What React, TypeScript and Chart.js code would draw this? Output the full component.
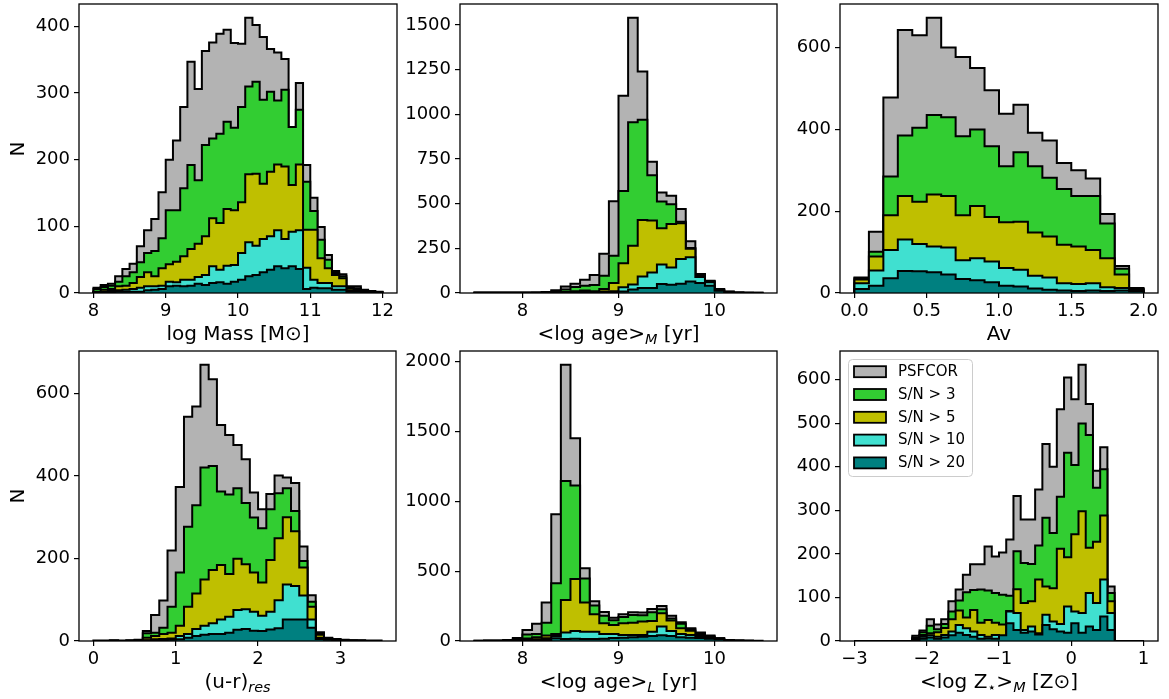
import React, { useEffect, useRef } from 'react';
import { Chart, registerables } from 'chart.js';

Chart.register(...registerables);

const FONT = "'DejaVu Sans', sans-serif";

// ---------- series ----------
const SERIES_NAMES = ['PSFCOR', 'S/N > 3', 'S/N > 5', 'S/N > 10', 'S/N > 20'];
const SERIES_COLORS = ['#b3b3b3', '#32cd32', '#bfbf00', '#40e0d0', '#008080'];

// ---------- panel 1 : log Mass (bins 8.0 .. 12.0, width 0.1) ----------
const MASS_BIN_START = 8.0;
const MASS_BIN_WIDTH = 0.1;
const MASS_PSFCOR = [8, 12, 14, 25, 36, 44, 70, 94, 111, 151, 200, 229, 279, 347, 306, 363, 376, 389, 395, 375, 374, 413, 402, 384, 366, 361, 351, 249, 315, 192, 143, 99, 57, 33, 28, 10, 10, 5, 3, 2];
const MASS_SN3 = [6, 9, 11, 17, 25, 31, 46, 60, 63, 82, 124, 124, 157, 192, 169, 222, 232, 239, 257, 248, 279, 310, 317, 290, 302, 289, 305, 249, 275, 167, 123, 80, 50, 30, 25, 9, 7, 4, 2, 1];
const MASS_SN5 = [2, 5, 6, 10, 11, 15, 24, 31, 25, 37, 43, 47, 55, 66, 74, 85, 112, 105, 126, 124, 136, 178, 179, 164, 182, 193, 190, 162, 193, 95, 95, 52, 37, 27, 22, 7, 6, 3, 1, 1];
const MASS_SN10 = [1, 2, 3, 4, 5, 6, 8, 10, 10, 11, 17, 16, 20, 20, 24, 27, 40, 35, 41, 42, 60, 76, 71, 81, 85, 94, 81, 92, 94, 38, 20, 15, 15, 10, 10, 4, 3, 2, 1, 0];
const MASS_SN20 = [1, 1, 1, 2, 2, 2, 2, 4, 5, 6, 10, 11, 10, 11, 14, 12, 15, 16, 14, 17, 20, 25, 27, 31, 35, 40, 37, 40, 36, 6, 8, 7, 7, 5, 5, 2, 2, 1, 0, 0];
const MASS_X_TICKS = [8, 9, 10, 11, 12];
const MASS_X_LABELS = ['8', '9', '10', '11', '12'];
const MASS_Y_TICKS = [0, 100, 200, 300, 400];

// ---------- panel 2 : <log age>_M (bins 7.5 .. 10.5, width 0.1) ----------
const AGEM_BIN_START = 7.5;
const AGEM_BIN_WIDTH = 0.1;
const AGEM_PSFCOR = [3, 3, 3, 3, 3, 3, 3, 5, 15, 36, 52, 74, 101, 219, 514, 1104, 1540, 1240, 735, 562, 544, 470, 290, 107, 68, 22, 8, 3, 2, 1];
const AGEM_SN3 = [2, 2, 2, 2, 2, 2, 2, 3, 9, 19, 33, 40, 45, 97, 208, 571, 955, 969, 659, 512, 496, 399, 252, 103, 66, 20, 7, 2, 1, 1];
const AGEM_SN5 = [1, 1, 1, 1, 1, 1, 1, 1, 3, 6, 10, 14, 10, 22, 56, 167, 265, 408, 405, 362, 386, 390, 248, 97, 64, 18, 6, 2, 1, 0];
const AGEM_SN10 = [0, 0, 0, 0, 0, 0, 1, 1, 2, 3, 4, 5, 5, 8, 10, 32, 48, 93, 115, 160, 142, 190, 200, 89, 60, 16, 5, 1, 0, 0];
const AGEM_SN20 = [0, 0, 0, 0, 0, 0, 0, 1, 1, 2, 2, 3, 3, 4, 5, 9, 19, 28, 28, 50, 46, 52, 65, 56, 41, 12, 4, 1, 0, 0];
const AGEM_X_TICKS = [8, 9, 10];
const AGEM_X_LABELS = ['8', '9', '10'];
const AGEM_Y_TICKS = [0, 250, 500, 750, 1000, 1250, 1500];

// ---------- panel 3 : Av (bins 0.0 .. 2.0, width 0.1) ----------
const AV_BIN_START = 0.0;
const AV_BIN_WIDTH = 0.1;
const AV_PSFCOR = [38, 150, 478, 643, 630, 673, 600, 577, 550, 496, 438, 460, 392, 373, 318, 300, 280, 193, 66, 12];
const AV_SN3 = [36, 101, 285, 385, 404, 435, 430, 383, 400, 359, 310, 344, 310, 282, 254, 237, 237, 170, 59, 10];
const AV_SN5 = [33, 89, 190, 237, 223, 241, 237, 190, 213, 186, 173, 174, 148, 138, 118, 114, 105, 85, 45, 9];
const AV_SN10 = [24, 55, 105, 131, 120, 114, 111, 80, 85, 77, 61, 57, 42, 38, 24, 22, 24, 14, 12, 7];
const AV_SN20 = [10, 18, 36, 54, 53, 51, 45, 34, 31, 26, 18, 16, 11, 8, 6, 5, 6, 5, 6, 4];
const AV_X_TICKS = [0, 0.5, 1, 1.5, 2];
const AV_X_LABELS = ['0.0', '0.5', '1.0', '1.5', '2.0'];
const AV_Y_TICKS = [0, 200, 400, 600];

// ---------- panel 4 : (u-r)_res (bins 0.0 .. 3.5, width 0.1) ----------
const UR_BIN_START = 0.0;
const UR_BIN_WIDTH = 0.1;
const UR_PSFCOR = [1, 1, 2, 1, 2, 3, 24, 63, 98, 219, 373, 543, 568, 669, 634, 523, 499, 475, 440, 360, 319, 356, 401, 396, 383, 229, 111, 21, 8, 5, 3, 2, 2, 1, 1];
const UR_SN3 = [0, 0, 1, 0, 1, 2, 19, 20, 32, 83, 166, 277, 329, 420, 424, 362, 355, 370, 334, 299, 273, 319, 358, 370, 315, 194, 95, 18, 7, 4, 2, 1, 1, 0, 0];
const UR_SN5 = [0, 0, 0, 0, 0, 1, 8, 12, 17, 20, 37, 83, 115, 149, 172, 184, 162, 199, 186, 166, 142, 196, 249, 300, 266, 178, 83, 15, 6, 3, 1, 1, 0, 0, 0];
const UR_SN10 = [0, 0, 0, 0, 0, 0, 2, 4, 5, 6, 12, 17, 29, 37, 43, 52, 59, 75, 77, 71, 61, 71, 99, 137, 133, 110, 52, 8, 4, 2, 1, 0, 0, 0, 0];
const UR_SN20 = [0, 0, 0, 0, 0, 0, 1, 2, 2, 3, 4, 8, 12, 15, 17, 17, 20, 27, 29, 25, 24, 28, 31, 52, 52, 52, 32, 5, 3, 1, 1, 0, 0, 0, 0];
const UR_X_TICKS = [0, 1, 2, 3];
const UR_X_LABELS = ['0', '1', '2', '3'];
const UR_Y_TICKS = [0, 200, 400, 600];

// ---------- panel 5 : <log age>_L (bins 7.5 .. 10.5, width 0.1) ----------
const AGEL_BIN_START = 7.5;
const AGEL_BIN_WIDTH = 0.1;
const AGEL_PSFCOR = [2, 3, 3, 8, 22, 79, 123, 275, 908, 1978, 1452, 521, 285, 208, 166, 192, 206, 204, 230, 250, 180, 135, 91, 60, 40, 19, 7, 3, 2, 1];
const AGEL_SN3 = [1, 1, 2, 5, 15, 46, 50, 130, 413, 1146, 1113, 447, 255, 180, 148, 172, 187, 185, 206, 228, 162, 123, 85, 54, 33, 19, 6, 2, 1, 0];
const AGEL_SN5 = [0, 1, 1, 2, 6, 18, 26, 40, 50, 294, 444, 275, 191, 127, 115, 127, 131, 139, 143, 198, 146, 91, 74, 50, 30, 16, 5, 2, 1, 0];
const AGEL_SN10 = [0, 0, 0, 1, 2, 8, 12, 20, 36, 60, 72, 67, 67, 50, 50, 43, 43, 43, 67, 103, 72, 50, 43, 36, 24, 15, 4, 1, 0, 0];
const AGEL_SN20 = [0, 0, 0, 0, 1, 3, 5, 8, 19, 14, 17, 14, 14, 17, 21, 24, 26, 31, 36, 41, 36, 26, 24, 21, 17, 12, 3, 1, 0, 0];
const AGEL_X_TICKS = [8, 9, 10];
const AGEL_X_LABELS = ['8', '9', '10'];
const AGEL_Y_TICKS = [0, 500, 1000, 1500, 2000];

// ---------- panel 6 : <log Z*>_M (bins -3.0 .. 1.0, width 0.1) ----------
const Z_BIN_START = -3.0;
const Z_BIN_WIDTH = 0.1;
const Z_PSFCOR = [0, 0, 0, 0, 0, 0, 0, 0, 12, 24, 50, 38, 50, 91, 118, 152, 176, 176, 217, 194, 203, 233, 333, 279, 279, 348, 452, 400, 532, 605, 555, 634, 544, 391, 445, 125, 0, 0, 0, 0];
const Z_SN3 = [0, 0, 0, 0, 0, 0, 0, 0, 8, 20, 35, 27, 39, 68, 93, 112, 117, 118, 116, 110, 106, 104, 206, 179, 177, 219, 283, 248, 331, 432, 404, 499, 473, 352, 394, 110, 0, 0, 0, 0];
const Z_SN5 = [0, 0, 0, 0, 0, 0, 0, 0, 6, 14, 18, 20, 30, 50, 70, 54, 71, 42, 48, 42, 38, 69, 119, 87, 91, 141, 125, 121, 212, 192, 245, 298, 214, 228, 288, 91, 0, 0, 0, 0];
const Z_SN10 = [0, 0, 0, 0, 0, 0, 0, 0, 4, 10, 13, 10, 14, 22, 37, 29, 22, 14, 10, 14, 10, 68, 64, 25, 33, 18, 60, 45, 39, 79, 68, 64, 110, 87, 141, 64, 0, 0, 0, 0];
const Z_SN20 = [0, 0, 0, 0, 0, 0, 0, 0, 2, 5, 8, 5, 8, 13, 19, 14, 10, 5, 6, 5, 13, 41, 25, 19, 22, 15, 37, 27, 22, 19, 41, 19, 33, 25, 56, 25, 0, 0, 0, 0];
const Z_X_TICKS = [-3, -2, -1, 0, 1];
const Z_X_LABELS = ['\u22123', '\u22122', '\u22121', '0', '1'];
const Z_Y_TICKS = [0, 100, 200, 300, 400, 500, 600];

// ---------- layout (pixels) ----------
const PAD_L = 78;
const PAD_R = 30;
const PAD_T = 20;
const AXIS_H = 40;
const TITLE_SIZE = 20;

const subStyle: React.CSSProperties = { fontSize: '0.72em', verticalAlign: '-0.28em', lineHeight: 0 };

const PANELS = [
  {
    box: { left: 79, top: 4, width: 318, height: 289 },
    binStart: MASS_BIN_START, binWidth: MASS_BIN_WIDTH,
    series: [MASS_PSFCOR, MASS_SN3, MASS_SN5, MASS_SN10, MASS_SN20],
    xMin: 7.8, xMax: 12.2, xTicks: MASS_X_TICKS, xLabels: MASS_X_LABELS, yTicks: MASS_Y_TICKS,
    yTitle: true, legend: false,
    xTitle: <span>log Mass [M⊙]</span>,
  },
  {
    box: { left: 460, top: 4, width: 317, height: 289 },
    binStart: AGEM_BIN_START, binWidth: AGEM_BIN_WIDTH,
    series: [AGEM_PSFCOR, AGEM_SN3, AGEM_SN5, AGEM_SN10, AGEM_SN20],
    xMin: 7.35, xMax: 10.65, xTicks: AGEM_X_TICKS, xLabels: AGEM_X_LABELS, yTicks: AGEM_Y_TICKS,
    yTitle: false, legend: false,
    xTitle: <span>&lt;log age&gt;<span style={subStyle}><i>M</i></span> [yr]</span>,
  },
  {
    box: { left: 840, top: 4, width: 318, height: 289 },
    binStart: AV_BIN_START, binWidth: AV_BIN_WIDTH,
    series: [AV_PSFCOR, AV_SN3, AV_SN5, AV_SN10, AV_SN20],
    xMin: -0.1, xMax: 2.1, xTicks: AV_X_TICKS, xLabels: AV_X_LABELS, yTicks: AV_Y_TICKS,
    yTitle: false, legend: false,
    xTitle: <span>Av</span>,
  },
  {
    box: { left: 79, top: 351, width: 317, height: 290 },
    binStart: UR_BIN_START, binWidth: UR_BIN_WIDTH,
    series: [UR_PSFCOR, UR_SN3, UR_SN5, UR_SN10, UR_SN20],
    xMin: -0.175, xMax: 3.675, xTicks: UR_X_TICKS, xLabels: UR_X_LABELS, yTicks: UR_Y_TICKS,
    yTitle: true, legend: false,
    xTitle: <span>(u-r)<span style={subStyle}><i>res</i></span></span>,
  },
  {
    box: { left: 460, top: 351, width: 317, height: 290 },
    binStart: AGEL_BIN_START, binWidth: AGEL_BIN_WIDTH,
    series: [AGEL_PSFCOR, AGEL_SN3, AGEL_SN5, AGEL_SN10, AGEL_SN20],
    xMin: 7.35, xMax: 10.65, xTicks: AGEL_X_TICKS, xLabels: AGEL_X_LABELS, yTicks: AGEL_Y_TICKS,
    yTitle: false, legend: false,
    xTitle: <span>&lt;log age&gt;<span style={subStyle}><i>L</i></span> [yr]</span>,
  },
  {
    box: { left: 840, top: 351, width: 318, height: 290 },
    binStart: Z_BIN_START, binWidth: Z_BIN_WIDTH,
    series: [Z_PSFCOR, Z_SN3, Z_SN5, Z_SN10, Z_SN20],
    xMin: -3.2, xMax: 1.2, xTicks: Z_X_TICKS, xLabels: Z_X_LABELS, yTicks: Z_Y_TICKS,
    yTitle: false, legend: true,
    xTitle: <span>&lt;log Z<span style={subStyle}>⋆</span>&gt;<span style={subStyle}><i>M</i></span> [Z⊙]</span>,
  },
];

const framePlugin = {
  id: 'frame',
  afterDatasetsDraw(chart: any) {
    const { ctx, chartArea: a } = chart;
    ctx.save();
    ctx.strokeStyle = '#000';
    ctx.lineWidth = 1.3;
    ctx.strokeRect(a.left, a.top, a.right - a.left, a.bottom - a.top);
    ctx.restore();
  },
};

const legendPlugin = {
  id: 'histLegend',
  afterDraw(chart: any) {
    const { ctx, chartArea: a } = chart;
    ctx.save();
    const x0 = a.left + 8.5;
    const y0 = a.top + 8.5;
    const w = 124;
    const h = 117;
    const r = 4;
    ctx.beginPath();
    ctx.moveTo(x0 + r, y0);
    ctx.lineTo(x0 + w - r, y0);
    ctx.quadraticCurveTo(x0 + w, y0, x0 + w, y0 + r);
    ctx.lineTo(x0 + w, y0 + h - r);
    ctx.quadraticCurveTo(x0 + w, y0 + h, x0 + w - r, y0 + h);
    ctx.lineTo(x0 + r, y0 + h);
    ctx.quadraticCurveTo(x0, y0 + h, x0, y0 + h - r);
    ctx.lineTo(x0, y0 + r);
    ctx.quadraticCurveTo(x0, y0, x0 + r, y0);
    ctx.closePath();
    ctx.fillStyle = 'rgba(255,255,255,0.8)';
    ctx.fill();
    ctx.strokeStyle = '#cccccc';
    ctx.lineWidth = 1;
    ctx.stroke();
    ctx.font = `15px ${FONT}`;
    ctx.textBaseline = 'middle';
    ctx.textAlign = 'left';
    SERIES_NAMES.forEach((name, i) => {
      const cy = a.top + 20.7 + i * 22.8;
      ctx.fillStyle = SERIES_COLORS[i];
      ctx.fillRect(a.left + 14, cy - 5.5, 32, 11);
      ctx.strokeStyle = '#000';
      ctx.lineWidth = 1.8;
      ctx.strokeRect(a.left + 14, cy - 5.5, 32, 11);
      ctx.fillStyle = '#000';
      ctx.fillText(name, a.left + 58, cy + 0.5);
    });
    ctx.restore();
  },
};

function HistPanel({ p }: { p: any }) {
  const ref = useRef<HTMLCanvasElement>(null);
  const cw = PAD_L + p.box.width + PAD_R;
  const ch = PAD_T + p.box.height + AXIS_H;

  useEffect(() => {
    if (!ref.current) return;
    const datasets = p.series.map((vals: number[], si: number) => {
      const pts: { x: number; y: number }[] = [{ x: p.binStart, y: 0 }];
      vals.forEach((v, i) => pts.push({ x: p.binStart + i * p.binWidth, y: v }));
      pts.push({ x: p.binStart + vals.length * p.binWidth, y: 0 });
      return {
        label: SERIES_NAMES[si],
        data: pts,
        stepped: 'before',
        fill: 'origin',
        backgroundColor: SERIES_COLORS[si],
        borderColor: '#000',
        borderWidth: 2,
        borderJoinStyle: 'miter',
        pointRadius: 0,
        pointHoverRadius: 0,
        order: 5 - si,
      };
    });
    const allMax = Math.max(...p.series.map((s: number[]) => Math.max(...s)));
    const tickFont = { family: FONT, size: 18 };
    const chart = new Chart(ref.current, {
      type: 'line',
      data: { datasets },
      plugins: p.legend ? [framePlugin, legendPlugin] : [framePlugin],
      options: {
        animation: false,
        responsive: false,
        events: [],
        layout: { padding: { top: PAD_T, right: PAD_R, left: 0, bottom: 0 } },
        plugins: { legend: { display: false }, tooltip: { enabled: false } },
        scales: {
          x: {
            type: 'linear',
            min: p.xMin,
            max: p.xMax,
            afterFit: (s: any) => { s.height = AXIS_H; },
            afterBuildTicks: (s: any) => { s.ticks = p.xTicks.map((v: number) => ({ value: v })); },
            ticks: {
              autoSkip: false,
              maxRotation: 0,
              minRotation: 0,
              padding: 3,
              color: '#000',
              font: tickFont,
              callback: (_v: any, i: number) => p.xLabels[i],
            },
            grid: { drawOnChartArea: false, drawTicks: true, tickLength: 5, color: '#000', lineWidth: 1.2 },
            border: { display: false },
          },
          y: {
            type: 'linear',
            min: 0,
            max: allMax * 1.05,
            afterFit: (s: any) => { s.width = PAD_L; },
            afterBuildTicks: (s: any) => { s.ticks = p.yTicks.map((v: number) => ({ value: v })); },
            ticks: {
              autoSkip: false,
              padding: 4,
              color: '#000',
              font: tickFont,
              callback: (v: any) => String(v),
            },
            grid: { drawOnChartArea: false, drawTicks: true, tickLength: 5, color: '#000', lineWidth: 1.2 },
            border: { display: false },
          },
        },
      } as any,
    } as any);
    return () => chart.destroy();
  }, []);

  return (
    <>
      <canvas
        ref={ref}
        width={cw}
        height={ch}
        style={{ position: 'absolute', left: p.box.left - PAD_L, top: p.box.top - PAD_T, width: cw, height: ch }}
      />
      <div
        style={{
          position: 'absolute',
          left: p.box.left - 40,
          width: p.box.width + 80,
          top: p.box.top + p.box.height + 30,
          textAlign: 'center',
          fontSize: TITLE_SIZE,
          lineHeight: `${TITLE_SIZE}px`,
          whiteSpace: 'nowrap',
        }}
      >
        {p.xTitle}
      </div>
      {p.yTitle && (
        <div
          style={{
            position: 'absolute',
            left: 16.5 - 20,
            width: 40,
            top: p.box.top + p.box.height / 2 - TITLE_SIZE / 2,
            textAlign: 'center',
            fontSize: TITLE_SIZE,
            lineHeight: `${TITLE_SIZE}px`,
            transform: 'rotate(-90deg)',
          }}
        >
          N
        </div>
      )}
    </>
  );
}

export default function App() {
  return (
    <div
      style={{
        position: 'fixed',
        left: 0,
        top: 0,
        width: 1169,
        height: 699,
        background: '#fff',
        fontFamily: FONT,
        color: '#000',
        overflow: 'hidden',
      }}
    >
      {PANELS.map((p, i) => (
        <HistPanel key={i} p={p} />
      ))}
    </div>
  );
}
